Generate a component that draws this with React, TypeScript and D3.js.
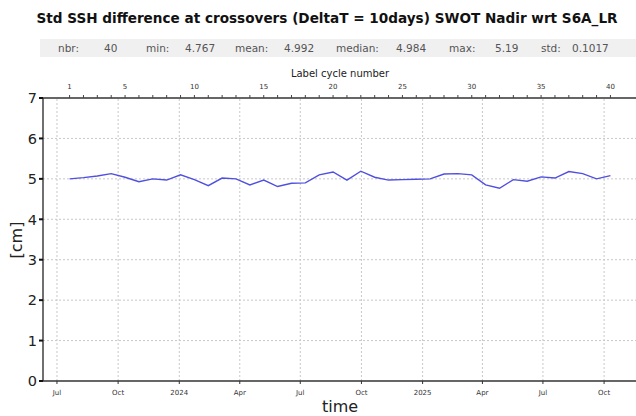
import React, { useEffect, useRef } from "react";
import * as d3 from "d3";

// std of SSH differences per cycle (cm)
const cycles = d3.range(1, 41);
const stdValues = [
  5.0, 5.03, 5.07, 5.13, 5.04, 4.93, 5.0, 4.97, 5.1, 4.98,
  4.83, 5.02, 5.0, 4.85, 4.97, 4.81, 4.89, 4.9, 5.1, 5.17,
  4.97, 5.19, 5.04, 4.97, 4.98, 4.99, 5.0, 5.12, 5.13, 5.1,
  4.85, 4.767, 4.98, 4.94, 5.05, 5.02, 5.18, 5.13, 5.0, 5.08,
];
const cycleOneDate = new Date(2023, 6, 20);
const repeatDays = 20.86;
const cycleLabels = [1, 5, 10, 15, 20, 25, 30, 35, 40];
const yTicks = [0, 1, 2, 3, 4, 5, 6, 7];
const stats = [
  ["nbr:", "40"],
  ["min:", "4.767"],
  ["mean:", "4.992"],
  ["median:", "4.984"],
  ["max:", "5.19"],
  ["std:", "0.1017"],
];

const font = "DejaVu Sans, sans-serif";

const App = () => {
  const svgRef: any = useRef();

  useEffect(() => {
    const width = 636;
    const height = 416;
    const margin = { top: 98, right: 0, bottom: 35, left: 43 };
    const svg = d3.select(svgRef.current);
    svg.selectAll("*").remove();
    svg.attr("width", width).attr("height", height);

    const cycleDate = (c: number) =>
      new Date(cycleOneDate.getTime() + (c - 1) * repeatDays * 864e5);

    const x = d3
      .scaleTime()
      .domain([new Date(2023, 5, 10), new Date(2025, 10, 18)])
      .range([margin.left, width - margin.right]);
    const y = d3.scaleLinear().domain([0, 7]).range([height - margin.bottom, margin.top]);

    // title
    svg
      .append("text")
      .attr("x", 327)
      .attr("y", 23)
      .attr("text-anchor", "middle")
      .attr("font-family", font)
      .attr("font-weight", "bold")
      .attr("font-size", 13.6)
      .attr("fill", "#111")
      .text("Std SSH difference at crossovers (DeltaT = 10days) SWOT Nadir wrt S6A_LR");

    // stats strip
    svg.append("rect").attr("x", 40).attr("y", 39).attr("width", 596).attr("height", 18).attr("fill", "#f0f0f0");
    const statX = [[58, 104], [146, 185], [235, 284], [336, 396], [449, 495], [541, 572]];
    stats.forEach(([k, v], i) => {
      [k, v].forEach((t, j) =>
        svg
          .append("text")
          .attr("x", statX[i][j])
          .attr("y", 52)
          .attr("font-family", font)
          .attr("font-size", 10.5)
          .attr("fill", "#555")
          .text(t)
      );
    });

    // grid
    const dateTicks = x.ticks(d3.timeMonth.every(3) as any);
    svg
      .append("g")
      .selectAll("line")
      .data(dateTicks)
      .join("line")
      .attr("x1", (d) => x(d))
      .attr("x2", (d) => x(d))
      .attr("y1", y(0))
      .attr("y2", y(7))
      .attr("stroke", "#c8c8c8")
      .attr("stroke-dasharray", "2,2");
    svg
      .append("g")
      .selectAll("line")
      .data(yTicks.slice(1, -1))
      .join("line")
      .attr("x1", margin.left)
      .attr("x2", width)
      .attr("y1", (d) => y(d))
      .attr("y2", (d) => y(d))
      .attr("stroke", "#c8c8c8")
      .attr("stroke-dasharray", "2,2");

    // line
    const line = d3
      .line<number>()
      .x((d, i) => x(cycleDate(cycles[i])))
      .y((d) => y(d));
    svg
      .append("path")
      .datum(stdValues)
      .attr("d", line)
      .attr("fill", "none")
      .attr("stroke", "#5050e0")
      .attr("stroke-width", 1.4);

    // spines
    const spine = "#333";
    svg.append("line").attr("x1", margin.left).attr("x2", width).attr("y1", y(0)).attr("y2", y(0)).attr("stroke", spine).attr("stroke-width", 1.4);
    svg.append("line").attr("x1", margin.left).attr("x2", width).attr("y1", y(7)).attr("y2", y(7)).attr("stroke", spine).attr("stroke-width", 1.4);
    svg.append("line").attr("x1", margin.left).attr("x2", margin.left).attr("y1", y(0)).attr("y2", y(7)).attr("stroke", spine).attr("stroke-width", 1.4);

    // y ticks
    const yg = svg.append("g");
    yg.selectAll("rect")
      .data(yTicks)
      .join("rect")
      .attr("x", margin.left - 4)
      .attr("y", (d) => y(d) - 1)
      .attr("width", 4)
      .attr("height", 2)
      .attr("fill", "#111");
    yg.selectAll("text")
      .data(yTicks)
      .join("text")
      .attr("x", margin.left - 6)
      .attr("y", (d) => y(d))
      .attr("dy", "0.36em")
      .attr("text-anchor", "end")
      .attr("font-family", font)
      .attr("font-size", 14.5)
      .attr("fill", "#222")
      .text((d) => d);

    // bottom date ticks
    const fmt = (d: Date) => (d.getMonth() === 0 ? d3.timeFormat("%Y")(d) : d3.timeFormat("%b")(d));
    const xg = svg.append("g");
    xg.selectAll("line")
      .data(dateTicks)
      .join("line")
      .attr("x1", (d) => x(d))
      .attr("x2", (d) => x(d))
      .attr("y1", y(0))
      .attr("y2", y(0) + 3)
      .attr("stroke", "#333");
    xg.selectAll("text")
      .data(dateTicks)
      .join("text")
      .attr("x", (d) => x(d))
      .attr("y", y(0) + 14)
      .attr("text-anchor", "middle")
      .attr("font-family", font)
      .attr("font-size", 7)
      .attr("fill", "#333")
      .text(fmt);

    // top cycle axis
    const tg = svg.append("g");
    tg.selectAll("line")
      .data(cycles)
      .join("line")
      .attr("x1", (c) => x(cycleDate(c)))
      .attr("x2", (c) => x(cycleDate(c)))
      .attr("y1", y(7))
      .attr("y2", y(7) - 3)
      .attr("stroke", "#444");
    tg.selectAll("text")
      .data(cycleLabels)
      .join("text")
      .attr("x", (c) => x(cycleDate(c)))
      .attr("y", y(7) - 9)
      .attr("text-anchor", "middle")
      .attr("font-family", font)
      .attr("font-size", 7)
      .attr("fill", "#333")
      .text((c) => c);
    svg
      .append("text")
      .attr("x", 340)
      .attr("y", 77)
      .attr("text-anchor", "middle")
      .attr("font-family", font)
      .attr("font-size", 10)
      .attr("fill", "#222")
      .text("Label cycle number");

    // axis labels
    svg
      .append("text")
      .attr("transform", "translate(22,240) rotate(-90)")
      .attr("text-anchor", "middle")
      .attr("font-family", font)
      .attr("font-size", 16)
      .attr("fill", "#222")
      .text("[cm]");
    svg
      .append("text")
      .attr("x", 340)
      .attr("y", 412)
      .attr("text-anchor", "middle")
      .attr("font-family", font)
      .attr("font-size", 16)
      .attr("fill", "#222")
      .text("time");
  }, []);

  return <svg ref={svgRef} style={{ position: "absolute", left: 0, top: 0, background: "#fff" }}></svg>;
};

export default App;
